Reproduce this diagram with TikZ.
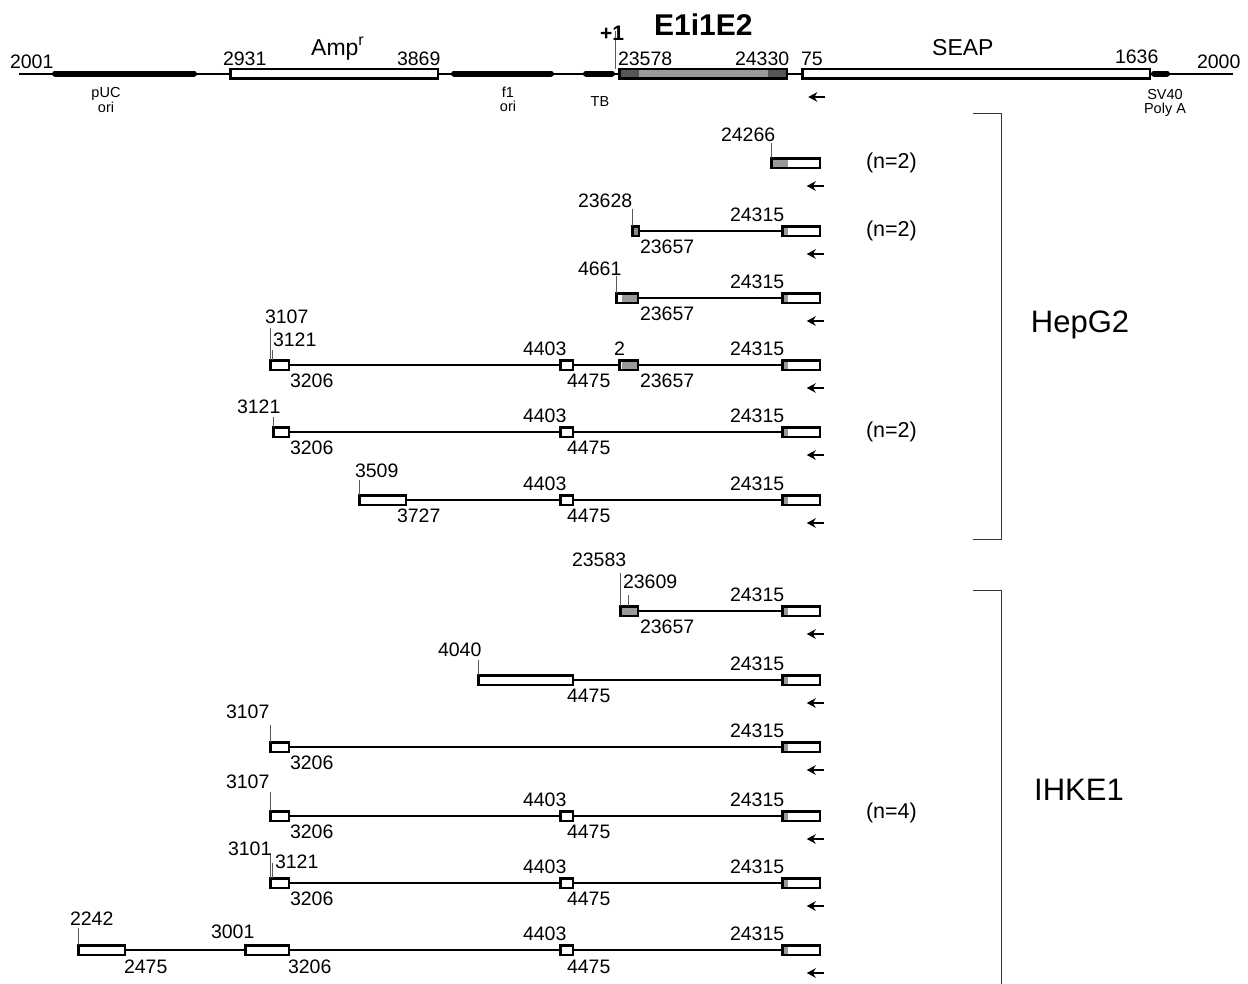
\documentclass[tikz,border=0pt]{standalone}
\usepackage{fontspec}
\setmainfont{Liberation Sans}
\usetikzlibrary{arrows.meta}
\definecolor{gA}{HTML}{9A9A9A}
\definecolor{gB}{HTML}{8A8A8A}
\definecolor{gD}{HTML}{555555}
\definecolor{gT}{HTML}{5A5A5A}
\tikzset{
 bx/.style={draw, line width=2.5pt, inner sep=0pt, outer sep=0pt, minimum height=9.5pt},
 rowline/.style={line width=2.7pt},
 thinline/.style={line width=2pt},
 bar/.style={line width=6pt, line cap=round},
 tick/.style={draw=gT, line width=1pt},
 arr/.style={line width=2.2pt, -{Stealth[length=9pt,width=9.5pt]}},
 num/.style={inner sep=0pt, outer sep=0pt, font=\fontsize{19.5}{20}\selectfont},
 nlab/.style={inner sep=0pt, outer sep=0pt, anchor=west, font=\fontsize{21.5}{22}\selectfont},
 small/.style={inner sep=0pt, outer sep=0pt, anchor=base, font=\fontsize{14.5}{15}\selectfont},
 big/.style={inner sep=0pt, outer sep=0pt, font=\fontsize{31}{32}\selectfont},
 brk/.style={line width=1pt, draw=black!80},
}
% box with outer extent x1..x2, centred at cy
\newcommand\bx[4]{\node[bx, minimum width={(#3-#2-2.5)*1pt}] (#1) at ({(#2+#3)/2},#4) {};}
% grey fill inside a box
\newcommand\gf[4]{\fill[#4] ({#1},{#3-5}) rectangle ({#2},{#3+5});}
% SEAP start box (grey E2 end) with the arrow below
\newcommand\seapbox[3]{\gf{#2}{788}{#3}{gA}\bx{#1}{#2}{821}{#3}%
 \draw[arr] ([xshift=4pt,yshift=-23pt]#1.east) -- ++(-17,0);}
\newcommand\lab[4]{\node[num, anchor=base west] (#1) at (#2,#3) {#4};}
\begin{document}
\begin{tikzpicture}[x=1pt,y=-1pt]
\useasboundingbox (0,0) rectangle (1248,983);

% ---------------- top map ----------------
\coordinate (L0) at (19,73.5);
\coordinate (R0) at (1233,73.5);
\draw[bar] (55,73.5) coordinate (puc1) -- (194,73.5) coordinate (puc2);
\draw[bar] (454,73.5) coordinate (f11) -- (551,73.5) coordinate (f12);
\draw[bar] (586,73.5) coordinate (tb1) -- (612,73.5) coordinate (tb2);
\draw[bar] (1154,73.5) coordinate (sv1) -- (1167,73.5) coordinate (sv2);
\bx{amp}{229}{439}{73.5}
\fill[gD] (618,68.5) rectangle (788,78.5);
\fill[gA] (639,68.5) rectangle (768,78.5);
\bx{eie}{618}{788}{73.5}
\bx{seap}{801}{1151}{73.5}
\draw[thinline] (L0) -- (amp.west);
\draw[thinline] (amp.east) -- (eie.west);
\draw[thinline] (eie.east) -- (seap.west);
\draw[thinline] (seap.east) -- (R0);
\draw[tick] (eie.north west) ++(-4,0) coordinate (p1a) -- ++(0,-38) coordinate (p1b);
\draw[arr] ([xshift=23pt,yshift=-23.5pt]seap.west) -- ++(-17,0);

\lab{t2001}{10}{68}{2001}
\lab{t2931}{223}{65}{2931}
\node[inner sep=0pt, anchor=base west, font=\fontsize{23}{24}\selectfont] (tamp) at (311,55) {Amp\textsuperscript{r}};
\lab{t3869}{397}{65}{3869}
\node[small] (tpuc) at (106,97) {pUC};
\node[small] (tpuo) at (106,112) {ori};
\node[small] (tf1) at (508,97) {f1};
\node[small] (tf1o) at (508,111) {ori};
\node[small] (ttb) at (600,106) {TB};
\node[inner sep=0pt, anchor=base west, font=\fontsize{21}{22}\selectfont\bfseries] (tp1) at (600,40) {+1};
\node[inner sep=0pt, anchor=base west, font=\fontsize{30}{31}\selectfont\bfseries] (teie) at (654,35) {E1i1E2};
\lab{t23578}{618}{65}{23578}
\lab{t24330}{735}{65}{24330}
\lab{t75}{801}{65}{75}
\node[inner sep=0pt, anchor=base west, font=\fontsize{23}{24}\selectfont] (tseap) at (932,55) {SEAP};
\lab{t1636}{1115}{63}{1636}
\lab{t2000}{1197}{68}{2000}
\node[small] (tsv) at (1165,99) {SV40};
\node[small] (tpa) at (1165,113) {Poly A};

% ---------------- HepG2 ----------------
% R1
\seapbox{r1}{770}{163}
\draw[tick] (r1.north west) -- ++(0,-15);
\lab{a1}{721}{141}{24266}
\node[nlab] (n1) at (866,163) {(n=2)};
% R2
\gf{631}{640}{231}{gB}\bx{r2a}{631}{640}{231}
\seapbox{r2}{781}{231}
\draw[rowline] (r2a.east) -- (r2.west);
\draw[tick] (r2a.north west) -- ++(0,-17);
\lab{a2}{578}{207}{23628}
\lab{b2}{730}{221}{24315}
\lab{c2}{640}{253}{23657}
\node[nlab] (n2) at (866,231) {(n=2)};
% R3
\gf{622}{639}{298}{gA}\bx{r3a}{615}{639}{298}
\seapbox{r3}{781}{298}
\draw[rowline] (r3a.east) -- (r3.west);
\draw[tick] (r3a.north west) -- ++(0,-17);
\lab{a3}{578}{275}{4661}
\lab{b3}{730}{288}{24315}
\lab{c3}{640}{320}{23657}
% R4
\bx{r4a}{269}{290}{365}
\bx{r4b}{559}{574}{365}
\gf{622}{639}{365}{gA}\bx{r4c}{618}{639}{365}
\seapbox{r4}{781}{365}
\draw[rowline] (r4a.east) -- (r4b.west);
\draw[rowline] (r4b.east) -- (r4c.west);
\draw[rowline] (r4c.east) -- (r4.west);
\draw[tick] (r4a.north west) -- ++(0,-32);
\draw[tick] ([xshift=2.5pt]r4a.north west) -- ++(0,-10);
\lab{a4}{265}{323}{3107}
\lab{d4}{273}{346}{3121}
\lab{e4}{290}{387}{3206}
\lab{f4}{523}{355}{4403}
\lab{g4}{567}{387}{4475}
\lab{h4}{614}{355}{2}
\lab{c4}{640}{387}{23657}
\lab{b4}{730}{355}{24315}
% R5
\bx{r5a}{272}{290}{432}
\bx{r5b}{559}{574}{432}
\seapbox{r5}{781}{432}
\draw[rowline] (r5a.east) -- (r5b.west);
\draw[rowline] (r5b.east) -- (r5.west);
\draw[tick] (r5a.north west) -- ++(0,-10);
\lab{a5}{237}{413}{3121}
\lab{e5}{290}{454}{3206}
\lab{f5}{523}{422}{4403}
\lab{g5}{567}{454}{4475}
\lab{b5}{730}{422}{24315}
\node[nlab] (n5) at (866,432) {(n=2)};
% R6
\bx{r6a}{358}{407}{500}
\bx{r6b}{559}{574}{500}
\seapbox{r6}{781}{500}
\draw[rowline] (r6a.east) -- (r6b.west);
\draw[rowline] (r6b.east) -- (r6.west);
\draw[tick] (r6a.north west) -- ++(0,-15);
\lab{a6}{355}{477}{3509}
\lab{e6}{397}{522}{3727}
\lab{f6}{523}{490}{4403}
\lab{g6}{567}{522}{4475}
\lab{b6}{730}{490}{24315}

\draw[brk] (973,113) coordinate (h1) -- (1001,113) -- (1001,539) -- (973,539) coordinate (h2);
\node[big] (hep) at (1080,325) {HepG2};

% ---------------- IHKE1 ----------------
% R7
\gf{619}{639}{611}{gA}\bx{r7a}{619}{639}{611}
\seapbox{r7}{781}{611}
\draw[rowline] (r7a.east) -- (r7.west);
\draw[tick] (r7a.north west) -- ++(0,-33);
\draw[tick] ([xshift=8pt]r7a.north west) -- ++(0,-11);
\lab{a7}{572}{566}{23583}
\lab{d7}{623}{588}{23609}
\lab{c7}{640}{633}{23657}
\lab{b7}{730}{601}{24315}
% R8
\bx{r8a}{477}{574}{680}
\seapbox{r8}{781}{680}
\draw[rowline] (r8a.east) -- (r8.west);
\draw[tick] (r8a.north west) -- ++(0,-15);
\lab{a8}{438}{656}{4040}
\lab{g8}{567}{702}{4475}
\lab{b8}{730}{670}{24315}
% R9
\bx{r9a}{269}{290}{747}
\seapbox{r9}{781}{747}
\draw[rowline] (r9a.east) -- (r9.west);
\draw[tick] (r9a.north west) -- ++(0,-17);
\lab{a9}{226}{718}{3107}
\lab{e9}{290}{769}{3206}
\lab{b9}{730}{737}{24315}
% R10
\bx{r10a}{269}{290}{816}
\bx{r10b}{559}{574}{816}
\seapbox{r10}{781}{816}
\draw[rowline] (r10a.east) -- (r10b.west);
\draw[rowline] (r10b.east) -- (r10.west);
\draw[tick] (r10a.north west) -- ++(0,-19);
\lab{a10}{226}{788}{3107}
\lab{e10}{290}{838}{3206}
\lab{f10}{523}{806}{4403}
\lab{g10}{567}{838}{4475}
\lab{b10}{730}{806}{24315}
\node[nlab] (n10) at (866,813) {(n=4)};
% R11
\bx{r11a}{269}{290}{883}
\bx{r11b}{559}{574}{883}
\seapbox{r11}{781}{883}
\draw[rowline] (r11a.east) -- (r11b.west);
\draw[rowline] (r11b.east) -- (r11.west);
\draw[tick] (r11a.north west) -- ++(0,-25);
\draw[tick] ([xshift=2.5pt]r11a.north west) -- ++(0,-15);
\lab{a11}{228}{855}{3101}
\lab{d11}{275}{868}{3121}
\lab{e11}{290}{905}{3206}
\lab{f11}{523}{873}{4403}
\lab{g11}{567}{905}{4475}
\lab{b11}{730}{873}{24315}
% R12
\bx{r12a}{77}{126}{950}
\bx{r12b}{244}{290}{950}
\bx{r12c}{559}{574}{950}
\seapbox{r12}{781}{950}
\draw[rowline] (r12a.east) -- (r12b.west);
\draw[rowline] (r12b.east) -- (r12c.west);
\draw[rowline] (r12c.east) -- (r12.west);
\draw[tick] (r12a.north west) -- ++(0,-17);
\lab{a12}{70}{925}{2242}
\lab{d12}{211}{938}{3001}
\lab{e12}{124}{973}{2475}
\lab{k12}{288}{973}{3206}
\lab{f12}{523}{940}{4403}
\lab{g12}{567}{973}{4475}
\lab{b12}{730}{940}{24315}

\draw[brk] (973,590) coordinate (i1) -- (1001,590) -- (1001,990) coordinate (i2);
\node[big] (ihk) at (1079,790) {IHKE1};
\end{tikzpicture}
\end{document}
